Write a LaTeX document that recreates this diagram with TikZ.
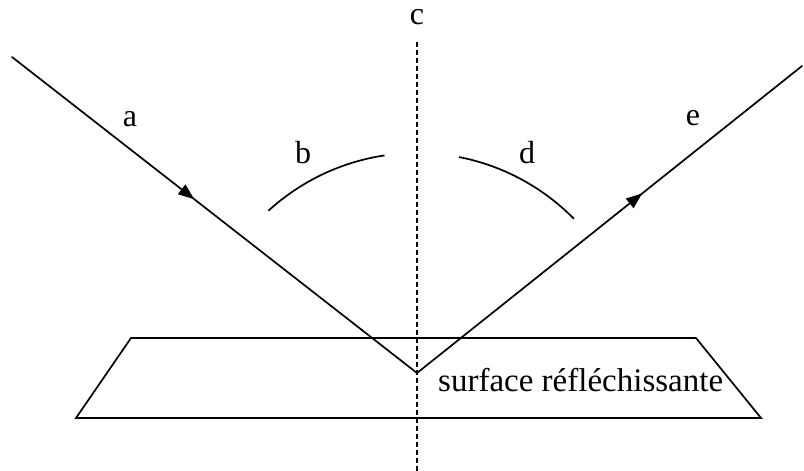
\documentclass[tikz,border=0pt]{standalone}
\usepackage{fontspec}
\setmainfont{Liberation Serif}
\usetikzlibrary{arrows.meta,decorations.markings}
\begin{document}
\begin{tikzpicture}[x=1pt,y=-1pt,
  ray/.style={line width=1.7pt,line cap=round},
  surf/.style={line width=1.7pt,line join=miter},
  normal/.style={line width=2.6pt,dash pattern=on 5pt off 3pt},
  angarc/.style={line width=1.7pt},
  lbl/.style={font=\fontsize{32}{38}\selectfont,inner sep=0pt},
  arrmark/.style={postaction={decorate},decoration={markings,
     mark=at position #1 with {\arrow{Triangle[length=16pt,width=12pt]}}}}]
\useasboundingbox (0,0) rectangle (804,471);
% points
\coordinate (A) at (12,57);
\coordinate (O) at (417,373);
\coordinate (E) at (802,66);
\coordinate (Ntop) at (417,42);
\coordinate (Nbot) at (417,471);
\coordinate (P1) at (131,338);
\coordinate (P2) at (696,338);
\coordinate (P3) at (761,418);
\coordinate (P4) at (76,418);
% surface
\draw[surf] (P1) -- (P2) -- (P3) -- (P4) -- cycle;
% normal
\draw[normal] (Ntop) -- (Nbot);
% rays
\draw[ray,arrmark=0.45] (A) -- (O);
\draw[ray,arrmark=0.585] (O) -- (E);
% angle arcs (y axis points down, so visual angles are negated)
\draw[angarc] ([shift={(-98.5:220)}]O) arc[start angle=-98.5,end angle=-132.5,radius=220];
\draw[angarc] ([shift={(-44.5:220)}]O) arc[start angle=-44.5,end angle=-79,radius=220];
% labels
\node[lbl] (la) at (130,119) {a};
\node[lbl] (lb) at (303,153) {b};
\node[lbl] (lc) at (417,17) {c};
\node[lbl] (ld) at (527,153) {d};
\node[lbl] (le) at (693,118) {e};
\node[lbl,font=\fontsize{33}{40}\selectfont,anchor=base west] (ls) at (438,391) {surface réfléchissante};
\end{tikzpicture}
\end{document}
